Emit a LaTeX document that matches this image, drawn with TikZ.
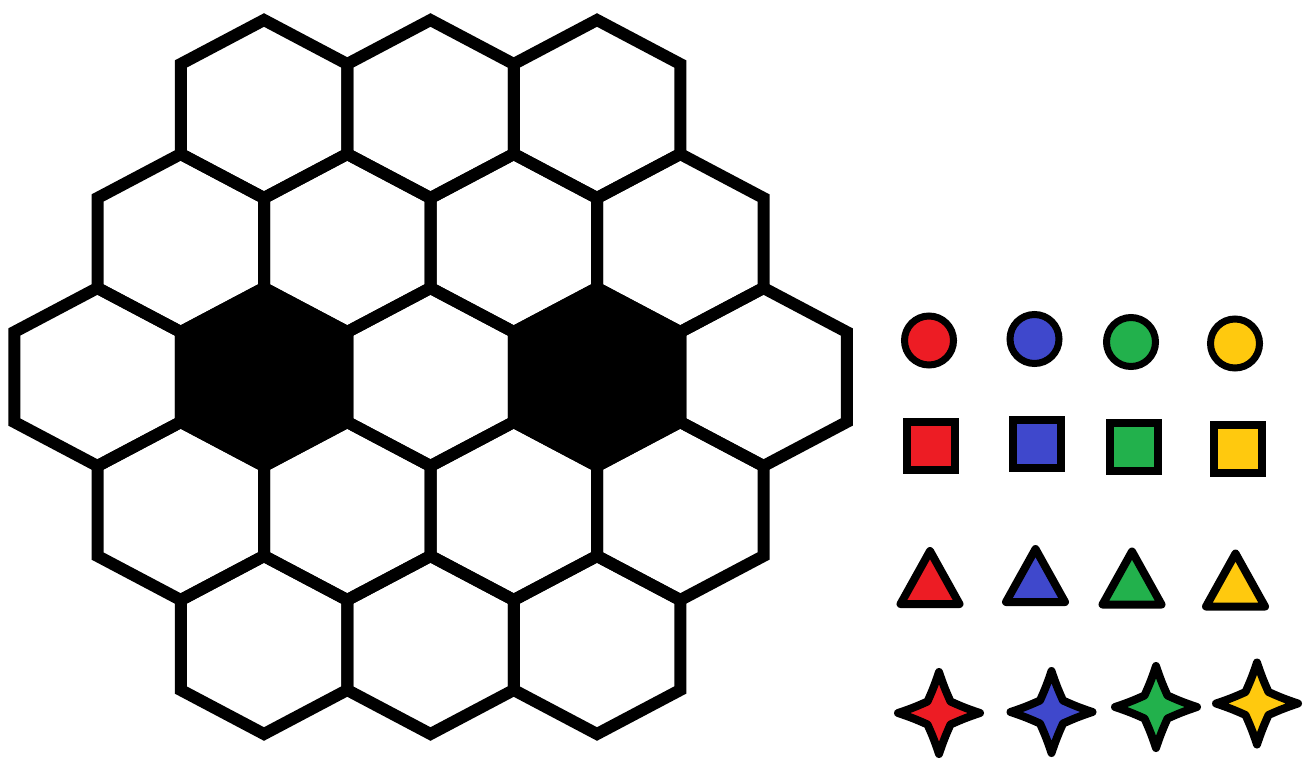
\documentclass[tikz,border=0pt]{standalone}
\definecolor{pred}{HTML}{ED1C24}
\definecolor{pblue}{HTML}{3F48CC}
\definecolor{pgreen}{HTML}{22B14C}
\definecolor{pyellow}{HTML}{FFC90E}
\begin{document}
\begin{tikzpicture}[x=1pt,y=-1pt,
  hexline/.style={line width=12pt, draw=black},
  tokline/.style={line width=8pt, draw=black, line join=round},
  tokcirc/.style={circle, draw=black, line width=7pt, minimum size=49pt, inner sep=0pt},
  toksq/.style={rectangle, draw=black, line width=8pt, minimum size=48pt, inner sep=0pt},
  hexcell/.pic={\draw[hexline] (0,-89)--(83.25,-45)--(83.25,45)--(0,89)--(-83.25,45)--(-83.25,-45)--cycle;},
  hexdark/.pic={\draw[hexline, fill=black] (0,-89)--(83.25,-45)--(83.25,45)--(0,89)--(-83.25,45)--(-83.25,-45)--cycle;},
  tokri/.pic={\draw[tokline, fill=#1] (0,-26.5)--(29.5,26.5)--(-29.5,26.5)--cycle;},
  tokstar/.pic={\draw[tokline, fill=#1] (0,-41) to[bend right=3] (11.5,-11.5) to[bend right=3] (41,0) to[bend right=3] (11.5,11.5) to[bend right=3] (0,41) to[bend right=3] (-11.5,11.5) to[bend right=3] (-41,0) to[bend right=3] (-11.5,-11.5) to[bend right=3] cycle;}
]
\useasboundingbox (0,0) rectangle (1306,760);
% hex board
\foreach \k in {-1,0,1} \pic at ({430.5+166.5*\k},109) {hexcell};
\foreach \k in {-1.5,-0.5,0.5,1.5} \pic at ({430.5+166.5*\k},243) {hexcell};
\foreach \k in {-2,0,2} \pic at ({430.5+166.5*\k},377) {hexcell};
\foreach \k in {-1.5,-0.5,0.5,1.5} \pic at ({430.5+166.5*\k},511) {hexcell};
\foreach \k in {-1,0,1} \pic at ({430.5+166.5*\k},645) {hexcell};
\foreach \k in {-1,1} \pic at ({430.5+166.5*\k},377) {hexdark};
% circles
\node[tokcirc, fill=pred] (c1) at (929,340.5) {};
\node[tokcirc, fill=pblue] (c2) at (1034.5,339) {};
\node[tokcirc, fill=pgreen] (c3) at (1131,342) {};
\node[tokcirc, fill=pyellow] (c4) at (1235,343.5) {};
% squares
\node[toksq, fill=pred] (s1) at (931,445.5) {};
\node[toksq, fill=pblue] (s2) at (1036.5,444) {};
\node[toksq, fill=pgreen] (s3) at (1134,447) {};
\node[toksq, fill=pyellow] (s4) at (1238,448.5) {};
% triangles
\pic at (930,577.5) {tokri=pred};
\pic at (1035.5,575.5) {tokri=pblue};
\pic at (1132,578) {tokri=pgreen};
\pic at (1235.5,580) {tokri=pyellow};
% stars
\pic at (939,713) {tokstar=pred};
\pic at (1051.5,712) {tokstar=pblue};
\pic at (1156,707) {tokstar=pgreen};
\pic at (1257,703.5) {tokstar=pyellow};
\end{tikzpicture}
\end{document}
